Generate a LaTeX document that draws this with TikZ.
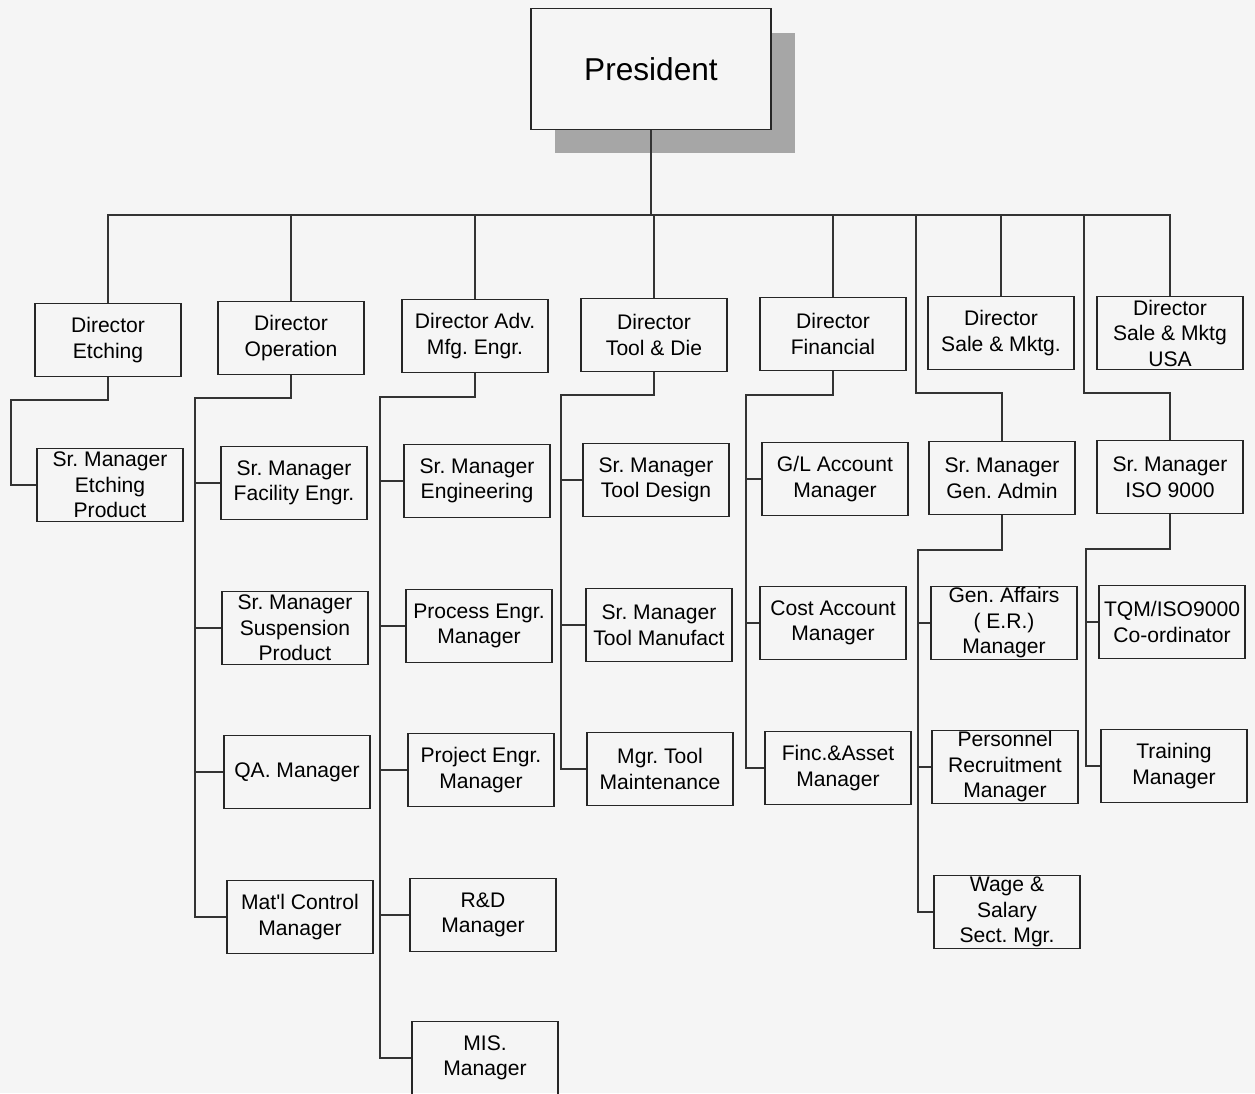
\documentclass[tikz,border=0pt]{standalone}
\usepackage{fontspec}
\setmainfont{Liberation Sans}
\usepackage{xcolor}
\usepackage{tikz}
\usetikzlibrary{shapes,arrows,positioning,calc,shadows}
\frenchspacing

\begin{document}
\begin{tikzpicture}[
    x=0.02cm, y=-0.02cm,
    pres/.style={rectangle, draw=black!85, line width=1pt, fill=black!4, minimum width=4.8cm, minimum height=2.42cm, font=\fontsize{18}{22}\selectfont, drop shadow={shadow xshift=0.48cm, shadow yshift=-0.48cm, fill=black!35, opacity=1}},
    unit/.style={rectangle, draw=black!85, line width=1pt, align=center, inner sep=0pt, minimum width=2.92cm, minimum height=1.46cm, font=\fontsize{12}{14.5}\selectfont},
    link/.style={draw=black!80, line width=0.7pt}
]
\path[use as bounding box, fill=black!4] (0,0) rectangle (1255,1093);

\node[pres] (pres) at (651,69) {President};

\node[unit] (detch) at (108,340) {Director\\Etching};
\node[unit] (dop) at (291,338) {Director\\Operation};
\node[unit] (dadv) at (475,336) {Director Adv.\\Mfg. Engr.};
\node[unit] (dtool) at (654,335) {Director\\Tool \& Die};
\node[unit] (dfin) at (833,334) {Director\\Financial};
\node[unit] (dsale) at (1001,333) {Director\\Sale \& Mktg.};
\node[unit] (dusa) at (1170,333) {Director\\Sale \& Mktg\\USA};

\node[unit] (smetch) at (110,485) {Sr. Manager\\Etching\\Product};

\node[unit] (smfac) at (294,483) {Sr. Manager\\Facility Engr.};
\node[unit] (smsus) at (295,628) {Sr. Manager\\Suspension\\Product};
\node[unit] (qa) at (297,772) {QA. Manager};
\node[unit] (matl) at (300,917) {Mat\textquotesingle l Control\\Manager};

\node[unit] (smeng) at (477,481) {Sr. Manager\\Engineering};
\node[unit] (proc) at (479,626) {Process Engr.\\Manager};
\node[unit] (proj) at (481,770) {Project Engr.\\Manager};
\node[unit] (rnd) at (483,915) {R\&D\\Manager};
\node[unit] (mis) at (485,1058) {MIS.\\Manager};

\node[unit] (smtd) at (656,480) {Sr. Manager\\Tool Design};
\node[unit] (smtm) at (659,625) {Sr. Manager\\Tool Manufact};
\node[unit] (mtm) at (660,769) {Mgr. Tool\\Maintenance};

\node[unit] (glacc) at (835,479) {G/L Account\\Manager};
\node[unit] (cost) at (833,623) {Cost Account\\Manager};
\node[unit] (finc) at (838,768) {Finc.\&Asset\\Manager};

\node[unit] (smga) at (1002,478) {Sr. Manager\\Gen. Admin};
\node[unit] (genaff) at (1004,623) {Gen. Affairs\\( E.R.)\\Manager};
\node[unit] (pers) at (1005,767) {Personnel\\Recruitment\\Manager};
\node[unit] (wage) at (1007,912) {Wage \&\\Salary\\Sect. Mgr.};

\node[unit] (smiso) at (1170,477) {Sr. Manager\\ISO 9000};
\node[unit] (tqm) at (1172,622) {TQM/ISO9000\\Co-ordinator};
\node[unit] (train) at (1174,766) {Training\\Manager};

\coordinate (bus) at (651,215);
\coordinate (gaj) at (916,393);
\coordinate (isoj) at (1084,393);
\coordinate (etj) at (11,400);
\coordinate (opj) at (195,398);
\coordinate (advj) at (380,397);
\coordinate (toolj) at (561,395);
\coordinate (finj) at (746,395);
\coordinate (gaj2) at (918,550);
\coordinate (isoj2) at (1086,549);

\draw[link] (pres.south) -- (bus);
\draw[link] (detch.north) |- (bus) -| (dusa.north);
\foreach \n in {dop,dadv,dtool,dfin,dsale}
    \draw[link] (\n.north) -- (\n.north |- bus);
\draw[link] (gaj |- bus) -- (gaj) -| (smga.north);
\draw[link] (isoj |- bus) -- (isoj) -| (smiso.north);

\draw[link] (detch.south) |- (etj) |- (smetch.west);

\draw[link] (dop.south) |- (opj) |- (matl.west);
\foreach \n in {smfac,smsus,qa}
    \draw[link] (opj |- \n.west) -- (\n.west);

\draw[link] (dadv.south) |- (advj) |- (mis.west);
\foreach \n in {smeng,proc,proj,rnd}
    \draw[link] (advj |- \n.west) -- (\n.west);

\draw[link] (dtool.south) |- (toolj) |- (mtm.west);
\foreach \n in {smtd,smtm}
    \draw[link] (toolj |- \n.west) -- (\n.west);

\draw[link] (dfin.south) |- (finj) |- (finc.west);
\foreach \n in {glacc,cost}
    \draw[link] (finj |- \n.west) -- (\n.west);

\draw[link] (smga.south) |- (gaj2) |- (wage.west);
\foreach \n in {genaff,pers}
    \draw[link] (gaj2 |- \n.west) -- (\n.west);

\draw[link] (smiso.south) |- (isoj2) |- (train.west);
\draw[link] (isoj2 |- tqm.west) -- (tqm.west);

\end{tikzpicture}
\end{document}
